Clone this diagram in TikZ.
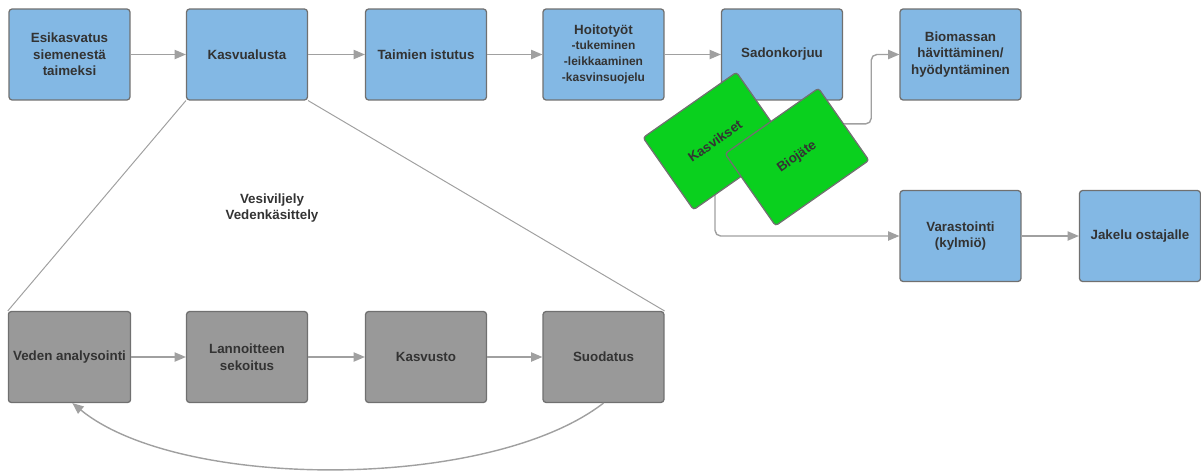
\documentclass[tikz,border=0pt]{standalone}
\usepackage{fontspec}
\setmainfont{Liberation Sans}
\usetikzlibrary{arrows.meta}
\pgfdeclarelayer{background}
\pgfsetlayers{background,main}
\definecolor{boxblue}{RGB}{131,184,228}
\definecolor{boxgray}{RGB}{153,153,153}
\definecolor{cardgreen}{RGB}{10,208,30}
\definecolor{edgegray}{RGB}{112,112,112}
\definecolor{linegray}{RGB}{160,160,160}
\definecolor{textgray}{RGB}{51,51,51}
\newcommand{\subline}[1]{{\fontsize{8.5}{10}\selectfont #1}}

\begin{document}
\begin{tikzpicture}[x=0.025cm,y=-0.025cm,>={Triangle[length=8pt,width=6.5pt]},
    box/.style={draw=edgegray,line width=0.9pt,rounded corners=2pt,
      minimum width=3.02cm,minimum height=2.27cm,align=center,
      text=textgray,font=\fontsize{9.5}{11.7}\selectfont\bfseries},
    bluebox/.style={box,fill=boxblue},
    graybox/.style={box,fill=boxgray},
    card/.style={box,fill=cardgreen,minimum width=2.85cm,minimum height=2.2cm,rotate=35},
    conn/.style={draw=linegray,line width=1pt}]
        \useasboundingbox (0,0) rectangle (1201,474);

        % the top row
        \node[bluebox] (esik) at (69.5,54.5) {Esikasvatus\\siemenestä\\taimeksi};
        \node[bluebox] (kasvu) at (247,54.5) {Kasvualusta};
        \node[bluebox] (taimi) at (426,54.5) {Taimien istutus};
        \node[bluebox] (hoito) at (603.5,54.5) {Hoitotyöt\\[-1pt]\subline{-tukeminen}\\[-0.3pt]\subline{-leikkaaminen}\\[-0.3pt]\subline{-kasvinsuojelu}};
        \node[bluebox] (sadon) at (782,54.5) {Sadonkorjuu};
        \node[bluebox] (biomassa) at (960.5,54.5) {Biomassan\\hävittäminen/\\hyödyntäminen};
        \node[bluebox] (varasto) at (960.5,236) {Varastointi\\(kylmiö)};
        \node[bluebox] (jakelu) at (1140,236) {Jakelu ostajalle};

        % the green cards
        \node[card] (kasv) at (715,141) {Kasvikset};
        \node[card] (bio) at (797,157) {Biojäte};

        % the water loop
        \node[graybox] (veden) at (69.5,357) {Veden analysointi};
        \node[graybox] (lannoite) at (247,357) {Lannoitteen\\sekoitus};
        \node[graybox] (kasvusto) at (426,357) {Kasvusto};
        \node[graybox] (suod) at (603.5,357) {Suodatus};
        \node[align=center,text=textgray,font=\fontsize{9.5}{11.7}\selectfont\bfseries] (vesi) at (272,208) {Vesiviljely\\Vedenkäsittely};

        % the arrows
        \draw[conn,->] (esik) -- (kasvu);
        \draw[conn,->] (kasvu) -- (taimi);
        \draw[conn,->] (taimi) -- (hoito);
        \draw[conn,->] (hoito) -- (sadon);
        \draw[conn,->] (varasto) -- (jakelu);
        \draw[conn,->,rounded corners=4pt] (bio.east) -- ++(27,0) |- (biomassa.west);
        \begin{pgfonlayer}{background}
          \draw[conn,->,rounded corners=4pt] (kasv.center) |- (varasto.west);
        \end{pgfonlayer}
        \draw[conn,->] (veden) -- (lannoite);
        \draw[conn,->] (lannoite) -- (kasvusto);
        \draw[conn,->] (kasvusto) -- (suod);
        \draw[conn,->] (suod.south) .. controls (490,491) and (180,491) .. ([xshift=2pt]veden.south);

        % the funnel lines
        \draw[conn,line width=0.7pt] (kasvu.south west) -- (veden.north west);
        \draw[conn,line width=0.7pt] (kasvu.south east) -- (suod.north east);
\end{tikzpicture}
\end{document}
